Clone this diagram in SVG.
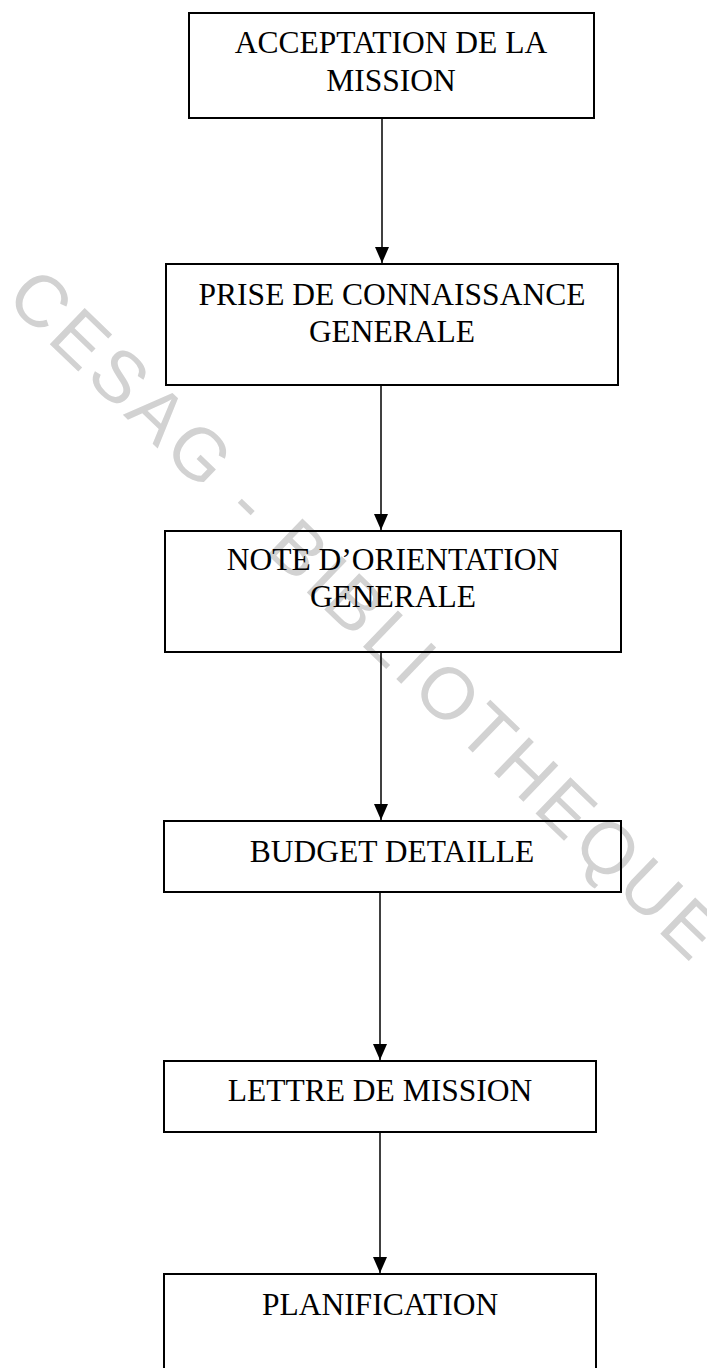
<svg xmlns="http://www.w3.org/2000/svg" width="707" height="1368" viewBox="0 0 707 1368">
  <style>
    .box { fill: none; stroke: #000; stroke-width: 2; }
    .lbl { font-family: "Liberation Serif", "Times New Roman", serif; font-size: 31.5px; fill: #000; text-anchor: middle; }
    .link { stroke: #000; stroke-width: 1.5; fill: none; }
    .wm { font-family: "Liberation Sans", Arial, sans-serif; font-size: 73px; fill: #d2d2d2; }
  </style>
  <defs>
    <!-- solid triangular head, drawn along +x so orient="auto" turns it with the line -->
    <marker id="arrow" viewBox="0 0 16 14" refX="16" refY="7" markerWidth="16" markerHeight="14" markerUnits="userSpaceOnUse" orient="auto">
      <path d="M0,0 L16,7 L0,14 Z" fill="#000"/>
    </marker>
  </defs>
  <rect width="707" height="1368" fill="#fff"/>

  <!-- library stamp across the page -->
  <text class="wm" transform="translate(4,300) rotate(44)" letter-spacing="5">CESAG - BIBLIOTHEQUE</text>

  <g id="connectors">
    <path class="link" d="M382,118 V263" marker-end="url(#arrow)"/>
    <path class="link" d="M381,385 V530" marker-end="url(#arrow)"/>
    <path class="link" d="M381,652 V820" marker-end="url(#arrow)"/>
    <path class="link" d="M380,892 V1060" marker-end="url(#arrow)"/>
    <path class="link" d="M380,1132 V1273" marker-end="url(#arrow)"/>
  </g>

  <g id="acceptation">
    <rect class="box" x="189" y="13" width="405" height="105"/>
    <text class="lbl" x="391" y="53">ACCEPTATION DE LA</text>
    <text class="lbl" x="391" y="91">MISSION</text>
  </g>

  <g id="prise-connaissance">
    <rect class="box" x="166" y="264" width="452" height="121"/>
    <text class="lbl" x="392" y="305">PRISE DE CONNAISSANCE</text>
    <text class="lbl" x="392" y="342">GENERALE</text>
  </g>

  <g id="note-orientation">
    <rect class="box" x="165" y="531" width="456" height="121"/>
    <text class="lbl" x="393" y="570">NOTE D’ORIENTATION</text>
    <text class="lbl" x="393" y="607">GENERALE</text>
  </g>

  <g id="budget">
    <rect class="box" x="164" y="821" width="457" height="71"/>
    <text class="lbl" x="392" y="862">BUDGET DETAILLE</text>
  </g>

  <g id="lettre-mission">
    <rect class="box" x="164" y="1061" width="432" height="71"/>
    <text class="lbl" x="380" y="1101">LETTRE DE MISSION</text>
  </g>

  <g id="planification">
    <rect class="box" x="164" y="1274" width="432" height="100"/>
    <text class="lbl" x="380" y="1315">PLANIFICATION</text>
  </g>
</svg>
